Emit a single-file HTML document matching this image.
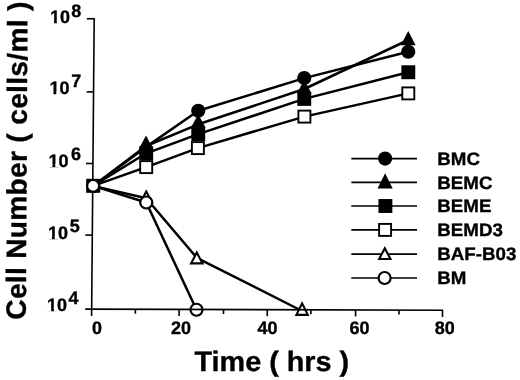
<!DOCTYPE html>
<html><head><meta charset="utf-8"><title>Cell Number vs Time</title>
<style>
html,body{margin:0;padding:0;background:#fff;}
body{width:520px;height:380px;overflow:hidden;}
svg{display:block;}
text{font-family:"Liberation Sans",Arial,Helvetica,sans-serif;font-weight:bold;text-rendering:geometricPrecision;fill:#000;stroke:#000;stroke-width:0.35px;}
.tk{font-size:18px;}
.lg{font-size:18px;}
.ti{font-size:28px;}
</style></head><body>
<svg width="520" height="380" viewBox="0 0 520 380">
<rect width="520" height="380" fill="#fff"/>
<line x1="94.2" y1="18" x2="91.6" y2="316" stroke="#000" stroke-width="1.6"/>
<line x1="86.90" y1="18.75" x2="93.90" y2="18.75" stroke="#000" stroke-width="1.6"/>
<line x1="86.60" y1="91.90" x2="93.60" y2="91.90" stroke="#000" stroke-width="1.6"/>
<line x1="86.00" y1="163.50" x2="93.00" y2="163.50" stroke="#000" stroke-width="1.6"/>
<line x1="85.40" y1="235.10" x2="92.40" y2="235.10" stroke="#000" stroke-width="1.6"/>
<polyline points="93.10,185.90 146.20,167.10 197.90,148.10 304.40,116.60 408.30,93.40" fill="none" stroke="#000" stroke-width="2.5" stroke-linejoin="round"/>
<polyline points="93.10,185.90 146.20,153.30 198.25,134.10 304.25,98.90 408.30,72.25" fill="none" stroke="#000" stroke-width="2.5" stroke-linejoin="round"/>
<polyline points="93.10,185.90 146.00,146.00 198.25,124.30 304.25,89.00 408.25,40.00" fill="none" stroke="#000" stroke-width="2.5" stroke-linejoin="round"/>
<polyline points="93.10,185.90 146.20,146.90 198.25,110.80 304.25,78.10 408.25,51.75" fill="none" stroke="#000" stroke-width="2.5" stroke-linejoin="round"/>
<polyline points="93.10,185.90 146.25,198.30 196.80,257.80 302.10,311.00" fill="none" stroke="#000" stroke-width="2.5" stroke-linejoin="round"/>
<polyline points="93.10,185.90 146.25,202.50 196.50,309.75" fill="none" stroke="#000" stroke-width="2.5" stroke-linejoin="round"/>
<rect x="140.20" y="161.10" width="12.00" height="12.00" fill="#fff" stroke="#000" stroke-width="1.9"/>
<rect x="191.90" y="142.10" width="12.00" height="12.00" fill="#fff" stroke="#000" stroke-width="1.9"/>
<rect x="298.40" y="110.60" width="12.00" height="12.00" fill="#fff" stroke="#000" stroke-width="1.9"/>
<rect x="402.30" y="87.40" width="12.00" height="12.00" fill="#fff" stroke="#000" stroke-width="1.9"/>
<circle cx="146.20" cy="150.10" r="7.1" fill="#000"/>
<circle cx="198.25" cy="110.80" r="7.1" fill="#000"/>
<circle cx="304.25" cy="78.10" r="7.1" fill="#000"/>
<circle cx="408.25" cy="51.75" r="7.1" fill="#000"/>
<rect x="139.25" y="146.35" width="13.9" height="13.9" fill="#000"/>
<rect x="191.30" y="127.15" width="13.9" height="13.9" fill="#000"/>
<rect x="297.30" y="91.95" width="13.9" height="13.9" fill="#000"/>
<rect x="401.35" y="65.30" width="13.9" height="13.9" fill="#000"/>
<polygon points="146.00,135.60 138.60,149.60 153.40,149.60" fill="#000"/>
<polygon points="198.25,114.20 190.85,127.80 205.65,127.80" fill="#000"/>
<polygon points="304.25,80.00 296.85,93.40 311.65,93.40" fill="#000"/>
<polygon points="408.25,30.90 400.85,45.20 415.65,45.20" fill="#000"/>
<polygon points="146.25,189.20 138.85,203.20 153.65,203.20" fill="#000"/><polygon points="146.25,193.69 142.34,201.10 150.16,201.10" fill="#fff"/>
<polygon points="196.80,250.30 189.40,264.40 204.20,264.40" fill="#000"/><polygon points="196.80,254.82 192.87,262.30 200.73,262.30" fill="#fff"/>
<polygon points="302.10,300.90 294.70,315.90 309.50,315.90" fill="#000"/><polygon points="302.10,305.65 298.08,313.80 306.12,313.80" fill="#fff"/>
<circle cx="146.25" cy="202.50" r="6.00" fill="#fff" stroke="#000" stroke-width="2.2"/>
<circle cx="196.50" cy="309.75" r="6.00" fill="#fff" stroke="#000" stroke-width="2.2"/>
<rect x="86.20" y="178.80" width="14" height="14" fill="#000"/>
<circle cx="93.10" cy="185.90" r="6.00" fill="#fff" stroke="#000" stroke-width="2.2"/>
<line x1="85.2" y1="309.1" x2="443.2" y2="310.25" stroke="#000" stroke-width="1.6"/>
<line x1="135.40" y1="309.26" x2="135.40" y2="313.76" stroke="#000" stroke-width="1.6"/>
<line x1="179.10" y1="309.40" x2="179.10" y2="315.90" stroke="#000" stroke-width="1.6"/>
<line x1="223.50" y1="309.54" x2="223.50" y2="314.04" stroke="#000" stroke-width="1.6"/>
<line x1="267.25" y1="309.68" x2="267.25" y2="316.18" stroke="#000" stroke-width="1.6"/>
<line x1="310.90" y1="309.83" x2="310.90" y2="314.33" stroke="#000" stroke-width="1.6"/>
<line x1="355.60" y1="309.97" x2="355.60" y2="316.47" stroke="#000" stroke-width="1.6"/>
<line x1="399.00" y1="310.11" x2="399.00" y2="314.61" stroke="#000" stroke-width="1.6"/>
<line x1="442.50" y1="310.25" x2="442.50" y2="317.05" stroke="#000" stroke-width="1.6"/>
<text class="tk" x="96.9" y="334" text-anchor="middle">0</text>
<text class="tk" x="181.1" y="334" text-anchor="middle">20</text>
<text class="tk" x="267.5" y="334" text-anchor="middle">40</text>
<text class="tk" x="359.6" y="334" text-anchor="middle">60</text>
<text class="tk" x="444.7" y="334" text-anchor="middle">80</text>
<text class="tk" x="50.0" y="23.3">10</text><text class="tk" x="71.2" y="16.5">8</text>
<rect x="50.70" y="20.80" width="3.3" height="3.2" fill="#fff"/><rect x="56.88" y="20.80" width="3.1" height="3.2" fill="#fff"/>
<text class="tk" x="49.4" y="94.3">10</text><text class="tk" x="71.2" y="87.2">7</text>
<rect x="50.10" y="91.80" width="3.3" height="3.2" fill="#fff"/><rect x="56.28" y="91.80" width="3.1" height="3.2" fill="#fff"/>
<text class="tk" x="48.4" y="166.5">10</text><text class="tk" x="71.0" y="160.2">6</text>
<rect x="49.10" y="164.00" width="3.3" height="3.2" fill="#fff"/><rect x="55.28" y="164.00" width="3.1" height="3.2" fill="#fff"/>
<text class="tk" x="47.9" y="238.5">10</text><text class="tk" x="69.8" y="232.2">5</text>
<rect x="48.60" y="236.00" width="3.3" height="3.2" fill="#fff"/><rect x="54.78" y="236.00" width="3.1" height="3.2" fill="#fff"/>
<text class="tk" x="47.1" y="310.9">10</text><text class="tk" x="68.6" y="304.4">4</text>
<rect x="47.80" y="308.40" width="3.3" height="3.2" fill="#fff"/><rect x="53.98" y="308.40" width="3.1" height="3.2" fill="#fff"/>
<text class="ti" transform="translate(194.5,371.4) scale(1.028,1)">Time ( hrs )</text>
<text class="ti" transform="translate(25.8,319.7) rotate(-89.7)" textLength="318" lengthAdjust="spacing">Cell Number ( cells/ml )</text>
<line x1="351.3" y1="158.60" x2="417" y2="158.60" stroke="#000" stroke-width="1.7"/>
<text class="lg" transform="translate(437.3,165.0) scale(1.04,1)">BMC</text>
<line x1="351.3" y1="182.30" x2="417" y2="182.30" stroke="#000" stroke-width="1.7"/>
<text class="lg" transform="translate(437.3,188.6) scale(1.04,1)">BEMC</text>
<line x1="351.3" y1="206.00" x2="417" y2="206.00" stroke="#000" stroke-width="1.7"/>
<text class="lg" transform="translate(437.3,212.1) scale(1.04,1)">BEME</text>
<line x1="351.3" y1="229.90" x2="417" y2="229.90" stroke="#000" stroke-width="1.7"/>
<text class="lg" transform="translate(437.3,236.2) scale(1.04,1)">BEMD3</text>
<line x1="351.3" y1="254.20" x2="417" y2="254.20" stroke="#000" stroke-width="1.7"/>
<text class="lg" transform="translate(437.3,260.2) scale(1.04,1)">BAF-B03</text>
<line x1="351.3" y1="278.00" x2="417" y2="278.00" stroke="#000" stroke-width="1.7"/>
<text class="lg" transform="translate(437.3,283.8) scale(1.04,1)">BM</text>
<circle cx="385.10" cy="158.60" r="7.1" fill="#000"/>
<polygon points="385.10,173.30 377.50,188.50 392.70,188.50" fill="#000"/>
<rect x="378.45" y="199.05" width="13.9" height="13.9" fill="#000"/>
<rect x="379.10" y="223.90" width="12.00" height="12.00" fill="#fff" stroke="#000" stroke-width="1.9"/>
<polygon points="384.80,246.00 377.40,260.10 392.20,260.10" fill="#000"/><polygon points="384.80,250.52 380.87,258.00 388.73,258.00" fill="#fff"/>
<circle cx="384.60" cy="278.00" r="6.00" fill="#fff" stroke="#000" stroke-width="2.2"/>
</svg></body></html>
